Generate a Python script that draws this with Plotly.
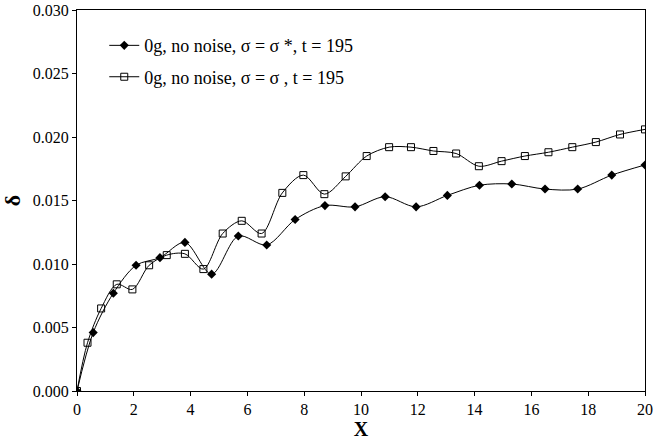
import plotly.graph_objects as go

# Series 1: sigma = sigma*, filled diamonds
x_star = [0.0, 0.57, 1.28, 2.08, 2.92, 3.80, 4.74, 5.68, 6.68, 7.68, 8.73,
          9.79, 10.85, 11.94, 13.04, 14.17, 15.31, 16.48, 17.63, 18.83, 20.0]
d_star = [0.0, 0.0046, 0.0077, 0.0099, 0.0105, 0.0117, 0.0092, 0.0122, 0.0115,
          0.0135, 0.0146, 0.0145, 0.0153, 0.0145, 0.0154, 0.0162, 0.0163,
          0.0159, 0.0159, 0.0170, 0.0178]

# Series 2: sigma = sigma, open squares
x_sig = [0.0, 0.37, 0.85, 1.40, 1.95, 2.54, 3.16, 3.80, 4.45, 5.13, 5.80,
         6.50, 7.23, 7.97, 8.71, 9.46, 10.20, 10.99, 11.76, 12.55, 13.35,
         14.15, 14.95, 15.77, 16.60, 17.44, 18.27, 19.12, 20.0]
d_sig = [0.0, 0.0038, 0.0065, 0.0084, 0.0080, 0.0099, 0.0107, 0.0108, 0.0096,
         0.0124, 0.0134, 0.0124, 0.0156, 0.0170, 0.0155, 0.0169, 0.0185,
         0.0192, 0.0192, 0.0189, 0.0187, 0.0177, 0.0181, 0.0185, 0.0188,
         0.0192, 0.0196, 0.0202, 0.0206]

names = ["0g, no noise, \u03c3 = \u03c3 *, t = 195",
         "0g, no noise, \u03c3 = \u03c3 , t = 195"]

x_ticks = list(range(0, 21, 2))
y_ticks = [0.0, 0.005, 0.010, 0.015, 0.020, 0.025, 0.030]

FONT = "Liberation Serif"

fig = go.Figure()
fig.add_trace(go.Scatter(
    x=x_star, y=d_star, name=names[0], legendgroup="a",
    mode="lines+markers",
    line=dict(color="black", width=1, shape="spline", smoothing=0.9),
    marker=dict(symbol="diamond", size=7, color="black"),
))
fig.add_trace(go.Scatter(
    x=x_sig, y=d_sig, name=names[1], legendgroup="b",
    mode="lines+markers",
    line=dict(color="black", width=1, shape="spline", smoothing=0.9),
    marker=dict(symbol="square-open", size=7, color="black",
                line=dict(width=1)),
))

axis_common = dict(
    showline=True, linecolor="black", linewidth=1, mirror=True,
    ticks="outside", ticklen=4, tickcolor="black", tickwidth=1,
    showgrid=False, zeroline=False, automargin=False,
    tickfont=dict(family=FONT, size=16, color="black"),
)

fig.update_layout(
    width=666, height=440,
    margin=dict(l=77, r=21, t=10, b=49, autoexpand=False),
    paper_bgcolor="white", plot_bgcolor="white",
    font=dict(family=FONT, color="black"),
    showlegend=True,
    legend=dict(
        x=0.048, y=0.955, xanchor="left", yanchor="top",
        bgcolor="rgba(0,0,0,0)", borderwidth=0,
        font=dict(family=FONT, size=18, color="black"),
        tracegroupgap=5, traceorder="grouped",
        itemwidth=30,
    ),
    xaxis=dict(
        range=[0, 20], tickvals=x_ticks,
        title=dict(text="<b>X</b>", font=dict(family=FONT, size=20),
                   standoff=6),
        **axis_common,
    ),
    yaxis=dict(
        range=[0, 0.030], tickvals=y_ticks, tickformat=".3f",
        title=dict(text="<b>\u03b4</b>", font=dict(family=FONT, size=22),
                   standoff=6),
        **axis_common,
    ),
)

fig.write_html("out.html")
